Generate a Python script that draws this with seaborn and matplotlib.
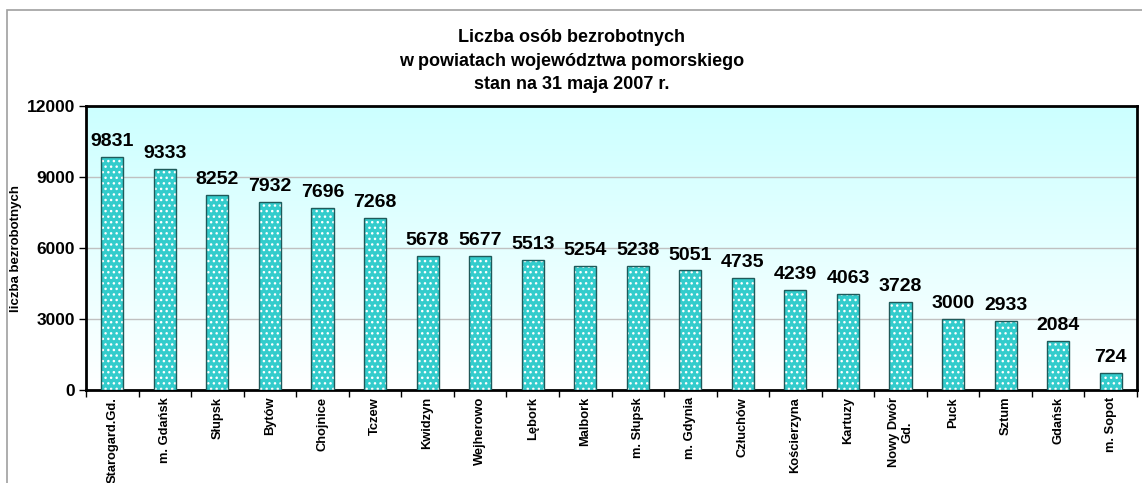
import numpy as np
import pandas as pd
import matplotlib
matplotlib.use("Agg")
import matplotlib.pyplot as plt
from matplotlib.patches import Rectangle
from matplotlib.colors import LinearSegmentedColormap
import seaborn as sns

categories = ["Starogard.Gd.", "m. Gdańsk", "Słupsk", "Bytów", "Chojnice", "Tczew",
              "Kwidzyn", "Wejherowo", "Lębork", "Malbork", "m. Słupsk", "m. Gdynia",
              "Człuchów", "Kościerzyna", "Kartuzy", "Nowy Dwór\nGd.", "Puck", "Sztum",
              "Gdańsk", "m. Sopot"]
values = [9831, 9333, 8252, 7932, 7696, 7268, 5678, 5677, 5513, 5254, 5238, 5051,
          4735, 4239, 4063, 3728, 3000, 2933, 2084, 724]
yticks = [0, 3000, 6000, 9000, 12000]
title = "Liczba osób bezrobotnych\nw powiatach województwa pomorskiego\nstan na 31 maja 2007 r."
ylabel = "liczba bezrobotnych"

sns.set_theme(style="white")
plt.rcParams['font.family'] = ['Liberation Sans', 'DejaVu Sans']
plt.rcParams['font.weight'] = 'bold'
for k in ['text.color', 'axes.labelcolor', 'xtick.color', 'ytick.color']:
    plt.rcParams[k] = 'black'

df = pd.DataFrame({"powiat": categories, "liczba": values})

fig = plt.figure(figsize=(11.42, 4.83), dpi=100)
W, H = 1142, 483
ax = fig.add_axes([86 / W, 1 - 390 / H, (1137 - 86) / W, (390 - 106) / H])

# outer chart border
fig.patches.append(Rectangle((7 / W, -0.05), 1.2, 1 - 10 / H + 0.05, transform=fig.transFigure,
                             fill=False, edgecolor="#a0a0a0", linewidth=1.2, zorder=0))

# gradient background
grad = np.linspace(0, 1, 256).reshape(-1, 1)
cmap = LinearSegmentedColormap.from_list("bg", ["#ffffff", "#ccffff"])
ax.imshow(grad, aspect="auto", cmap=cmap, origin="lower", extent=[0, 1, 0, 1],
          transform=ax.transAxes, zorder=-5)

sns.barplot(data=df, x="powiat", y="liczba", ax=ax, color="#33cccc", saturation=1,
            width=0.42, edgecolor="white", linewidth=0, hatch="...", zorder=3)

bars = list(ax.patches)[:len(values)]
for p in bars:
    ax.add_patch(Rectangle((p.get_x(), p.get_y()), p.get_width(), p.get_height(),
                           fill=False, edgecolor="#1f5a5a", linewidth=1.0, zorder=4))

for p, v in zip(bars, values):
    ax.annotate(f"{v}", (p.get_x() + p.get_width() / 2, p.get_height()),
                xytext=(0, 5), textcoords="offset points", ha="center", va="bottom",
                fontsize=14, fontweight="bold", color="black", zorder=5)

ax.set_xlim(-0.5, len(categories) - 0.5)
ax.set_ylim(0, 12000)
ax.set_yticks(yticks)
ax.set_yticklabels([str(t) for t in yticks], fontsize=12.5, fontweight="bold")
ax.yaxis.grid(True, color="#c0c0c0", linewidth=1.0, zorder=0)
ax.set_axisbelow(True)

ax.set_xticks(range(len(categories)))
ax.set_xticklabels(categories, rotation=90, fontsize=9.3, fontweight="bold",
                   va="top", ha="center", multialignment="center")
ax.tick_params(axis="x", which="major", length=0, pad=5)
ax.set_xticks(np.arange(-0.5, len(categories), 1), minor=True)
ax.tick_params(axis="x", which="minor", length=5, direction="out", width=1, color="black", bottom=True)
ax.tick_params(axis="y", length=5, direction="out", width=1, color="black", left=True, pad=3)

for s in ax.spines.values():
    s.set_visible(True)
    s.set_color("black")
    s.set_linewidth(2)

ax.set_xlabel("")
ax.set_ylabel(ylabel, fontsize=9.5, fontweight="bold")
ax.yaxis.set_label_coords((22 - 86) / (1137 - 86), 0.5)

fig.text(572 / W, 1 - 61 / H, title, ha="center", va="center", fontsize=13,
         fontweight="bold", linespacing=1.5)

fig.savefig("out.png", dpi=100)
